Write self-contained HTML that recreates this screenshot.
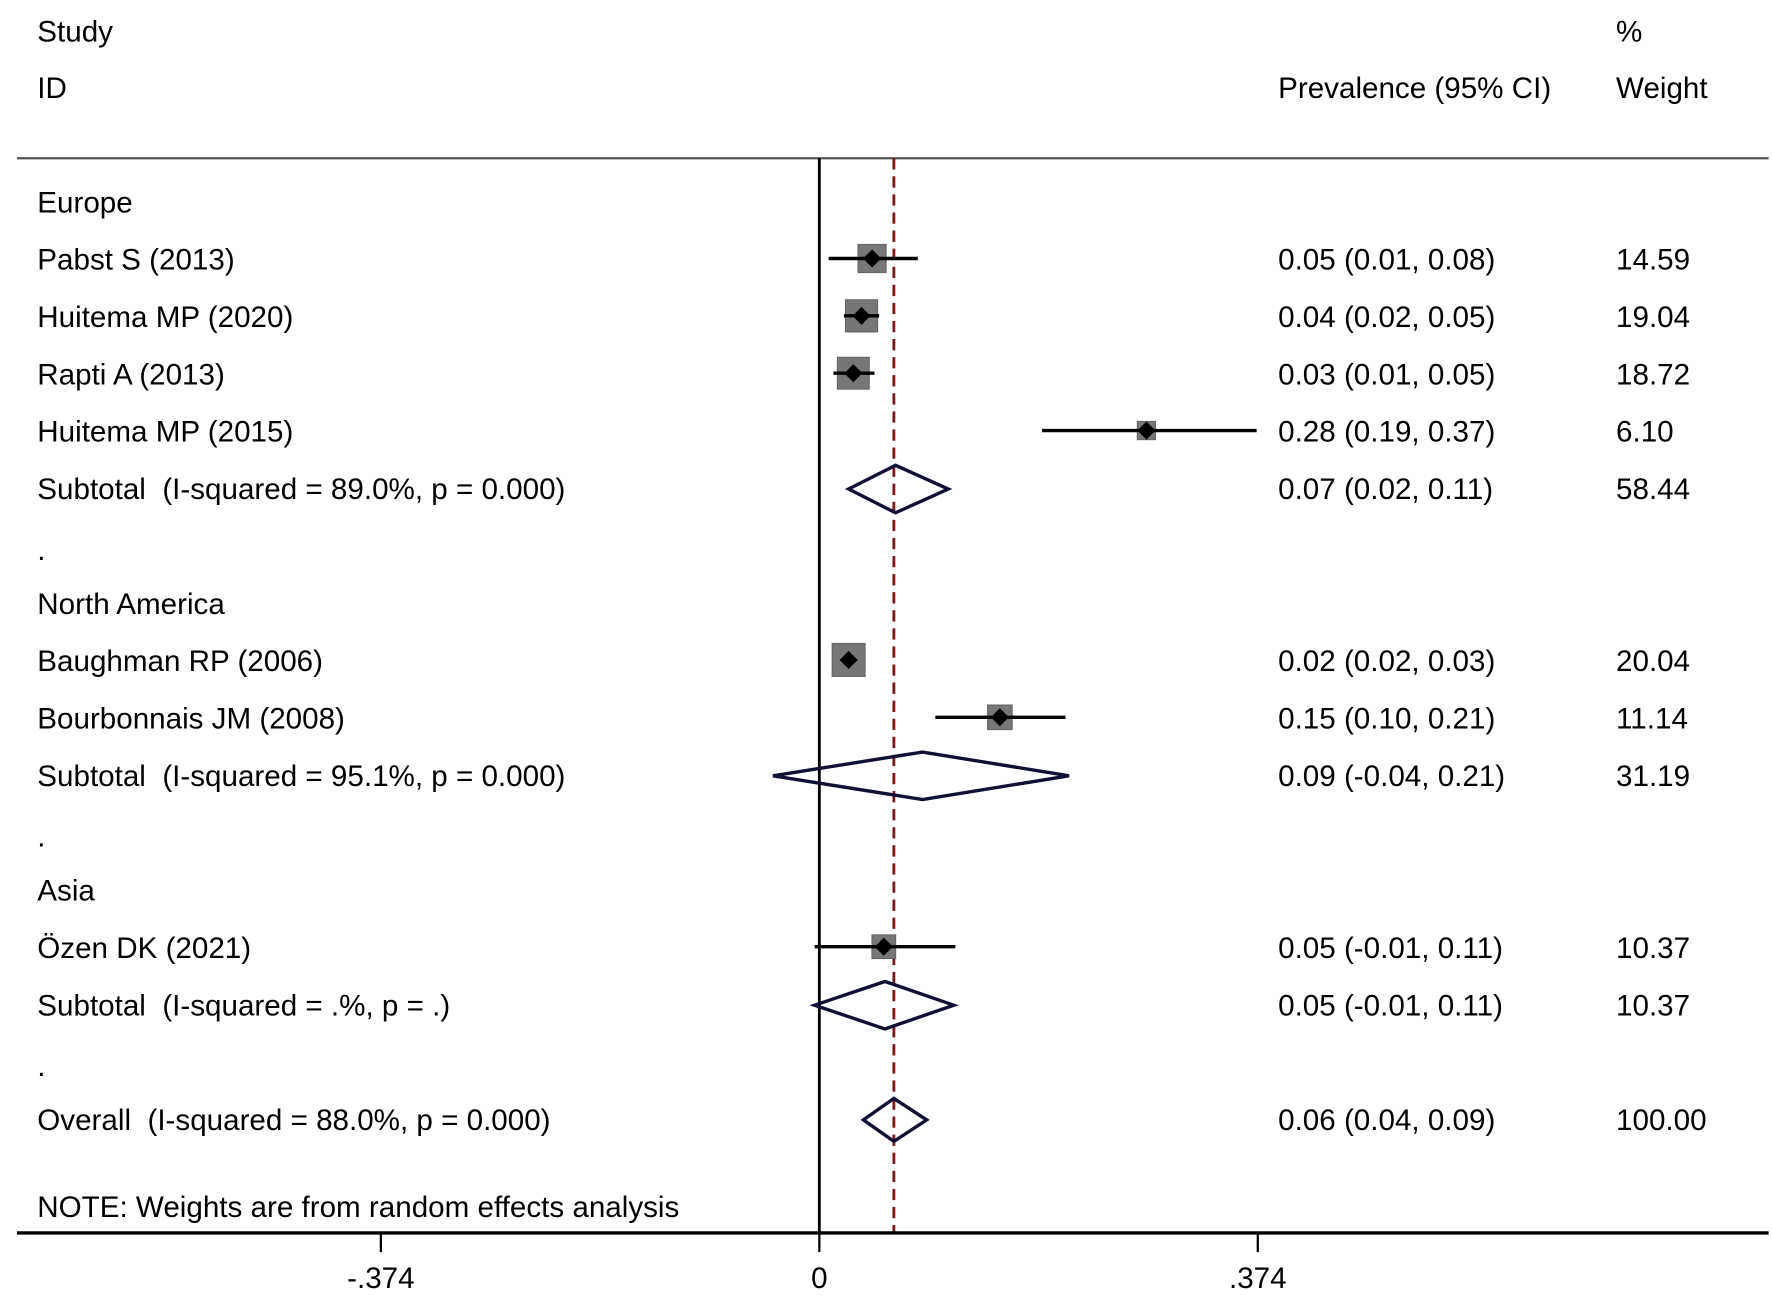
<!DOCTYPE html>
<html><head><meta charset="utf-8"><style>
html,body{margin:0;padding:0;background:#fff;}
svg{display:block;font-family:"Liberation Sans",Arial,sans-serif;}
text{white-space:pre;}
</style></head><body>
<svg id="chart" width="1772" height="1305" viewBox="0 0 1568 1154.8" preserveAspectRatio="none" xmlns="http://www.w3.org/2000/svg" xml:space="preserve"></svg>
<script>
const labels = ["Europe","Pabst S (2013)","Huitema MP (2020)","Rapti A (2013)","Huitema MP (2015)","Subtotal  (I-squared = 89.0%, p = 0.000)",".","North America","Baughman RP (2006)","Bourbonnais JM (2008)","Subtotal  (I-squared = 95.1%, p = 0.000)",".","Asia","Özen DK (2021)","Subtotal  (I-squared = .%, p = .)",".","Overall  (I-squared = 88.0%, p = 0.000)"];
const kinds = ["h","s","s","s","s","d","x","h","s","s","d","x","h","s","d","x","d"];
const est = [null,0.045,0.036,0.029,0.279,0.065,null,null,0.025,0.154,0.088,null,null,0.055,0.056,null,0.0636];
const lo = [null,0.008,0.021,0.012,0.19,0.025,null,null,0.02,0.099,-0.0395,null,null,-0.004,-0.004,null,0.0376];
const hi = [null,0.084,0.051,0.047,0.373,0.110,null,null,0.03,0.210,0.213,null,null,0.116,0.1147,null,0.0916];
const ciText = ["","0.05 (0.01, 0.08)","0.04 (0.02, 0.05)","0.03 (0.01, 0.05)","0.28 (0.19, 0.37)","0.07 (0.02, 0.11)","","","0.02 (0.02, 0.03)","0.15 (0.10, 0.21)","0.09 (-0.04, 0.21)","","","0.05 (-0.01, 0.11)","0.05 (-0.01, 0.11)","","0.06 (0.04, 0.09)"];
const weights = [null,14.59,19.04,18.72,6.10,58.44,null,null,20.04,11.14,31.19,null,null,10.37,10.37,null,100.00];
const tickVals = [-0.374,0,0.374];
const tickLabels = ["-.374","0",".374"];
const overallEst = 0.0636;
</script>
<script>
const NS="http://www.w3.org/2000/svg";
const svg=document.getElementById('chart');
const X=v=>725+v*1037.4;
const rowY=i=>179+i*50.75;
function el(t,a,p){const e=document.createElementNS(NS,t);for(const k in a)e.setAttribute(k,a[k]);(p||svg).appendChild(e);return e;}
function txt(x,y,s,name){const t=el('text',{x:x,y:y+2,'font-size':26.2,fill:'#000','dominant-baseline':'middle'});t.textContent=s;


return t;}
txt(33,28,"Study","header-study");
txt(33,78,"ID","header-id");
txt(1131,78,"Prevalence (95% CI)","header-prevalence");
txt(1430,28,"%","header-percent");
txt(1430,78,"Weight","header-weight");
let l=el('line',{x1:15,x2:1565,y1:140,y2:140,stroke:'#555','stroke-width':2});

l=el('line',{x1:X(0),x2:X(0),y1:140,y2:1090,stroke:'#000','stroke-width':2.5});

l=el('line',{x1:X(overallEst),x2:X(overallEst),y1:140,y2:1090,stroke:'#7a1a1a','stroke-width':2.5,'stroke-dasharray':'10,6'});

for(let i=0;i<labels.length;i++){
 const y=rowY(i);
 txt(33,y+(kinds[i]==='x'?3:0),labels[i],'row-label');
 if(ciText[i])txt(1131,y,ciText[i],'ci-text');
 if(weights[i]!==null)txt(1430,y,weights[i].toFixed(2),'weight-text');
 if(kinds[i]==='s'){
  const s=6.5*Math.sqrt(weights[i]);
  const r=el('rect',{x:X(est[i])-s/2,y:y-s/2-1,width:s,height:s,fill:'#777',stroke:'#666'});
  
  const c=el('line',{x1:X(lo[i]),x2:X(hi[i]),y1:y-1,y2:y-1,stroke:'#000','stroke-width':3});
  
  const cx=X(est[i]),cy=y-1;
  const d=el('polygon',{points:`${cx-8},${cy} ${cx},${cy-8} ${cx+8},${cy} ${cx},${cy+8}`,fill:'#000'});
  
 }else if(kinds[i]==='d'){
  const h=i===16?19:21;
  const p=el('polygon',{points:`${X(lo[i])},${y} ${X(est[i])},${y-h} ${X(hi[i])},${y} ${X(est[i])},${y+h}`,fill:'none',stroke:'#101035','stroke-width':3});
  
 }
}
txt(33,1068,"NOTE: Weights are from random effects analysis","note");
l=el('line',{x1:15,x2:1565,y1:1091,y2:1091,stroke:'#000','stroke-width':3});

tickVals.forEach((v,i)=>{
 const t=el('line',{x1:X(v),x2:X(v),y1:1091,y2:1108,stroke:'#000','stroke-width':2});
 
 const tx=txt(X(v),1131,tickLabels[i],'x-tick-label');tx.setAttribute('text-anchor','middle');
});
</script>
</body></html>
